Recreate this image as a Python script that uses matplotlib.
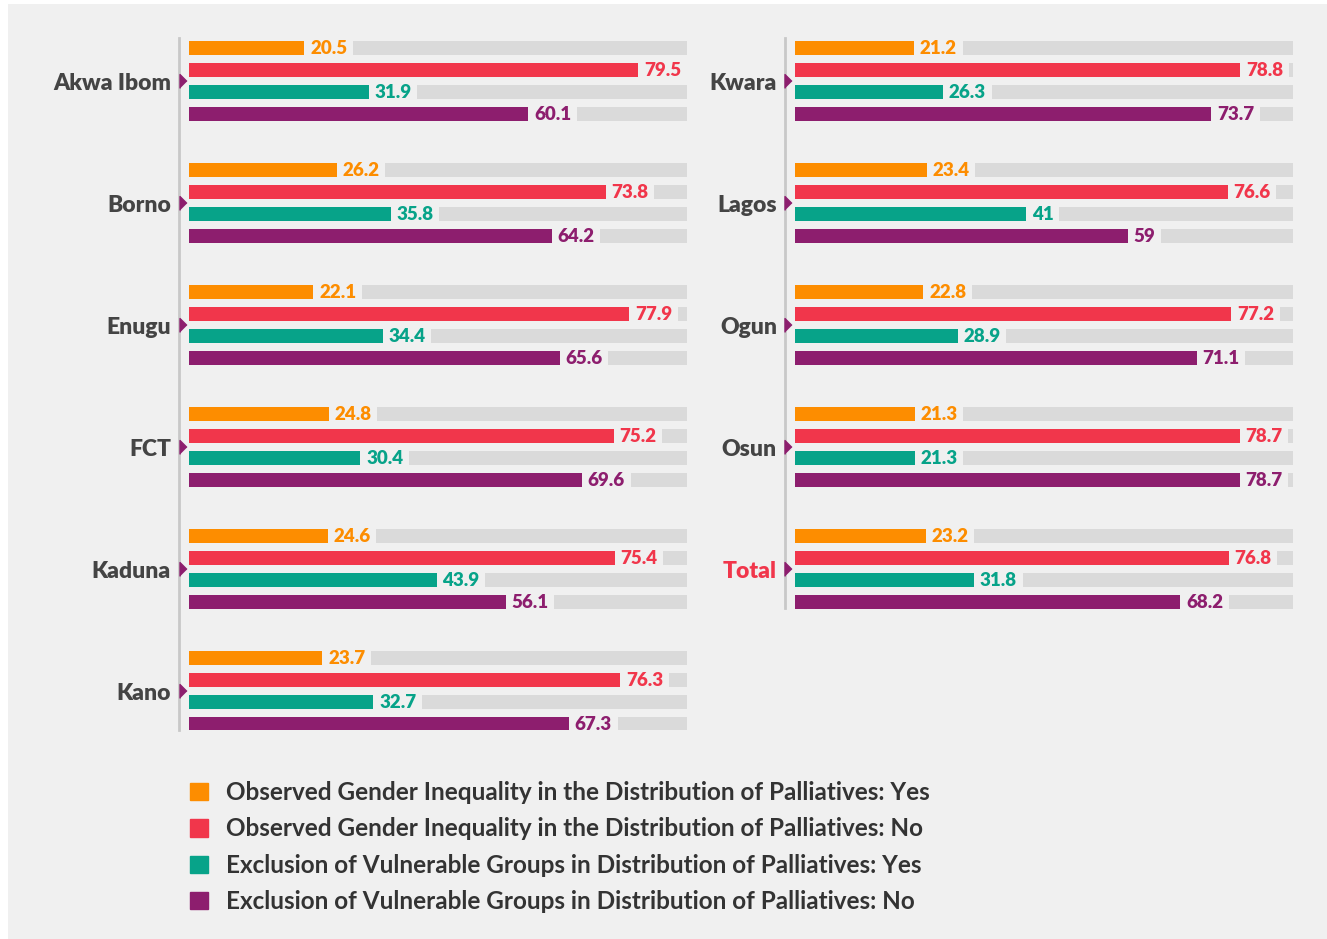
import matplotlib.pyplot as plt
import matplotlib.patches as mpatches
import matplotlib.transforms as mtransforms

plt.rcParams['font.family'] = ['Lato', 'DejaVu Sans']

# data
left_states = ["Akwa Ibom", "Borno", "Enugu", "FCT", "Kaduna", "Kano"]
left_gender_yes = [20.5, 26.2, 22.1, 24.8, 24.6, 23.7]
left_gender_no = [79.5, 73.8, 77.9, 75.2, 75.4, 76.3]
left_excl_yes = [31.9, 35.8, 34.4, 30.4, 43.9, 32.7]
left_excl_no = [60.1, 64.2, 65.6, 69.6, 56.1, 67.3]

right_states = ["Kwara", "Lagos", "Ogun", "Osun", "Total"]
right_gender_yes = [21.2, 23.4, 22.8, 21.3, 23.2]
right_gender_no = [78.8, 76.6, 77.2, 78.7, 76.8]
right_excl_yes = [26.3, 41, 28.9, 21.3, 31.8]
right_excl_no = [73.7, 59, 71.1, 78.7, 68.2]

labels = ["Observed Gender Inequality in the Distribution of Palliatives: Yes",
          "Observed Gender Inequality in the Distribution of Palliatives: No",
          "Exclusion of Vulnerable Groups in Distribution of Palliatives: Yes",
          "Exclusion of Vulnerable Groups in Distribution of Palliatives: No"]
colors = ["#fd8d00", "#f1364b", "#07a389", "#8d1e6e"]

BG = "#f0f0f0"
TRACK = "#dadada"
TRACK_MAX = 88
GROUP = 122 / 22

W, H = 1327, 939
fig = plt.figure(figsize=(W / 100, H / 100), dpi=100, facecolor="white")
fig.patches.append(mpatches.Rectangle((8 / W, 0), 1, 1 - 4 / H, transform=fig.transFigure,
                                      facecolor=BG, edgecolor="none", zorder=-5))

tri = [(-1, -2), (-1, 2), (1, 0)]


def panel(x0, states, series, line_end):
    ax = fig.add_axes([x0 / W, 1 - 730 / H, 498 / W, 692 / H])
    ax.set_facecolor("none")
    ax.set_xlim(0, TRACK_MAX)
    ax.set_ylim(682 / 22, -10 / 22)
    ax.axis("off")
    shift = mtransforms.ScaledTranslation(-6.5 / 100, 0, fig.dpi_scale_trans)
    for g, state in enumerate(states):
        base = g * GROUP
        for r, (vals, c) in enumerate(zip(series, colors)):
            y = base + r
            ax.barh(y, TRACK_MAX, height=0.64, color=TRACK, zorder=1)
            ax.barh(y, vals[g], height=0.64, color=c, zorder=2)
            ax.annotate(f"{vals[g]:g}", xy=(vals[g], y), xytext=(5, 0), textcoords="offset pixels",
                        ha="left", va="center", fontsize=13.5, fontweight="heavy", color=c, zorder=4,
                        bbox=dict(boxstyle="square,pad=0.3", facecolor=BG, edgecolor="none"))
        yc = base + 1.5
        ax.annotate(state, xy=(0, yc), xytext=(-18, -2), textcoords="offset pixels",
                    ha="right", va="center", fontsize=16.5, fontweight="heavy",
                    color="#f1364b" if state == "Total" else "#444444", annotation_clip=False)
        ax.plot([0], [yc], transform=ax.transData + shift, marker=tri, markersize=10,
                color="#8d1e6e", clip_on=False, zorder=5)
    ax.plot([-10 / 498, -10 / 498], [-10 / 22, line_end], transform=ax.get_yaxis_transform(),
            color="#c8c8c8", lw=2, clip_on=False, zorder=3)
    return ax


panel(189, left_states, [left_gender_yes, left_gender_no, left_excl_yes, left_excl_no], 682 / 22)
panel(795, right_states, [right_gender_yes, right_gender_no, right_excl_yes, right_excl_no], 560 / 22)

handles = [mpatches.Patch(color=c, label=l) for c, l in zip(colors, labels)]
fig.legend(handles=handles, loc="upper left", bbox_to_anchor=(190 / W, 1 - 781 / H),
           frameon=False, handlelength=0.72, handleheight=0.72, borderpad=0, borderaxespad=0,
           handletextpad=0.75, labelspacing=0.55, prop={"weight": "bold", "size": 17.5},
           labelcolor="#333333")

fig.savefig("out.png", dpi=100, facecolor="white")
